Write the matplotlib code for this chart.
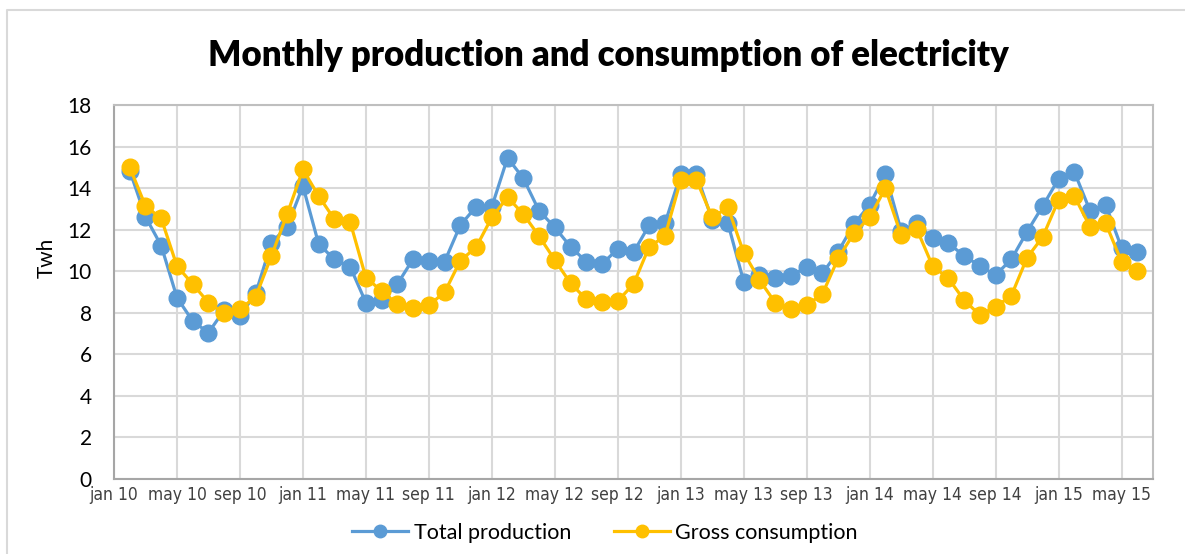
import matplotlib
matplotlib.use('Agg')
import matplotlib.pyplot as plt
from matplotlib.lines import Line2D
import numpy as np

# monthly values in TWh, one per month
production = [14.84, 12.62, 11.23, 8.73, 7.60, 7.04, 8.13, 7.86, 8.93, 11.37, 12.14, 14.10, 11.31,
              10.57, 10.22, 8.49, 8.61, 9.38, 10.59, 10.51, 10.46, 12.22, 13.10, 13.10, 15.46, 14.47, 12.91,
              12.11, 11.18, 10.46, 10.35, 11.07, 10.91, 12.22, 12.30, 14.68, 14.68, 12.46, 12.30, 9.50, 9.82,
              9.66, 9.79, 10.19, 9.90, 10.94, 12.27, 13.19, 14.68, 11.95, 12.30, 11.58, 11.34, 10.75, 10.25,
              9.82, 10.57, 11.90, 13.14, 14.44, 14.79, 12.91, 13.19, 11.13, 10.94]
consumption = [15.00, 13.14, 12.54, 10.25, 9.38, 8.49, 7.97, 8.17, 8.77, 10.73, 12.75, 14.90, 13.62,
               12.50, 12.38, 9.69, 9.05, 8.41, 8.21, 8.37, 8.98, 10.51, 11.15, 12.59, 13.56, 12.75, 11.69,
               10.54, 9.42, 8.65, 8.50, 8.57, 9.38, 11.18, 11.69, 14.39, 14.39, 12.59, 13.07, 10.89, 9.58,
               8.49, 8.17, 8.37, 8.90, 10.62, 11.82, 12.59, 13.99, 11.74, 12.02, 10.25, 9.66, 8.61, 7.89,
               8.29, 8.82, 10.65, 11.66, 13.43, 13.62, 12.14, 12.30, 10.46, 10.01]
tick_labels = ['jan 10', 'may 10', 'sep 10', 'jan 11', 'may 11', 'sep 11', 'jan 12', 'may 12', 'sep 12',
               'jan 13', 'may 13', 'sep 13', 'jan 14', 'may 14', 'sep 14', 'jan 15', 'may 15']

BLUE = '#5B9BD5'
GOLD = '#FFC000'
GRID = '#D9D9D9'
TXT = '#000000'

W, H = 1185, 554
fig = plt.figure(figsize=(W / 100, H / 100), dpi=100)
ax = fig.add_axes([114 / W, 1 - 479 / H, (1153 - 114) / W, (479 - 105) / H])

x = np.arange(len(production))
ax.plot(x, production, color=BLUE, lw=2.3, marker='o', ms=12, label='Total production', zorder=3)
ax.plot(x, consumption, color=GOLD, lw=2.3, marker='o', ms=12, label='Gross consumption', zorder=4)

ax.set_xlim(-1, len(production))
ax.set_ylim(0, 18)
ax.set_yticks(np.arange(0, 19, 2))
ax.set_xticks(np.arange(-1, len(production), 4))
ax.set_xticklabels(tick_labels, family='DejaVu Sans', fontstretch='condensed', fontsize=12.5,
                   color='#404040')
ax.tick_params(axis='both', length=0)
ax.tick_params(axis='x', pad=5)
ax.tick_params(axis='y', pad=16, labelsize=15)
for lbl in ax.get_yticklabels():
    lbl.set_family('Lato')

ax.grid(True, color=GRID, lw=1.5)
ax.set_axisbelow(True)
for s in ax.spines.values():
    s.set_color('#BFBFBF')
    s.set_linewidth(1.5)
ax.spines['left'].set_color('#A6A6A6')
ax.spines['bottom'].set_color('#A6A6A6')

fig.text(608 / W, 1 - 55 / H, 'Monthly production and consumption of electricity',
         ha='center', va='center', fontsize=25, fontweight='heavy', family='Lato', color=TXT)
fig.text(47 / W, 1 - 258 / H, 'Twh', rotation=90, ha='center', va='center',
         fontsize=15, family='Lato', color=TXT)

fig.legend(loc='center', bbox_to_anchor=(605 / W, 1 - 533 / H), ncol=2, frameon=False,
           prop={'family': 'Lato', 'size': 15.5}, handlelength=2.6, columnspacing=2.0,
           handletextpad=0.25, markerscale=0.75)

# light outline around the chart area
fig.add_artist(Line2D([7 / W, 7 / W, 1.0], [0.0, 1 - 10 / H, 1 - 10 / H],
                      transform=fig.transFigure, color=GRID, lw=1.5))

fig.savefig('out.png', dpi=100)
